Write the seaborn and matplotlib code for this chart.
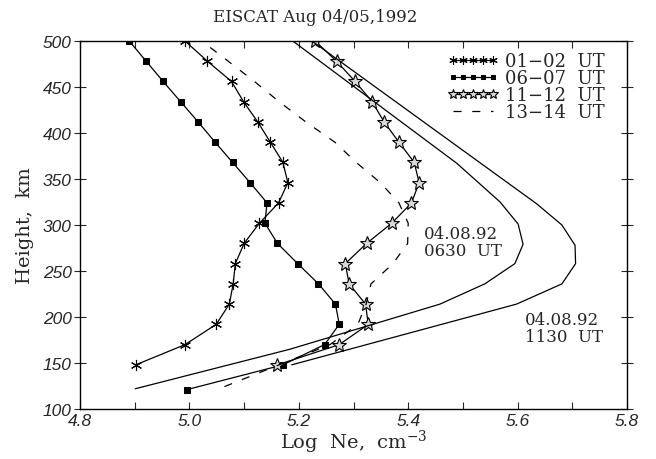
import numpy as np
import matplotlib
matplotlib.use('Agg')
import matplotlib.pyplot as plt
import seaborn as sns
from matplotlib.ticker import MultipleLocator
from matplotlib.font_manager import FontProperties

# EISCAT profiles, Aug 04/05 1992 (height km, log Ne)
h_0102 = [500, 478, 456, 434, 412, 390, 368, 346, 324, 302, 280, 258, 236, 214, 192, 170, 148]
ne_0102 = [4.992, 5.033, 5.077, 5.099, 5.125, 5.148, 5.171, 5.180, 5.163, 5.128,
           5.100, 5.084, 5.080, 5.073, 5.049, 4.992, 4.902]

h_0607 = [500, 478, 456, 434, 412, 390, 368, 346, 324, 302, 280, 258, 236, 214, 192, 170, 148, 121]
ne_0607 = [4.890, 4.921, 4.952, 4.984, 5.016, 5.047, 5.079, 5.111, 5.142, 5.138,
           5.161, 5.198, 5.236, 5.267, 5.274, 5.247, 5.171, 4.995]

h_1112 = [500, 478, 456, 434, 412, 390, 368, 346, 324, 302, 280, 258, 236, 214, 192, 170, 148]
ne_1112 = [5.230, 5.269, 5.303, 5.334, 5.356, 5.383, 5.411, 5.420, 5.406, 5.370,
           5.324, 5.285, 5.292, 5.322, 5.327, 5.274, 5.161]

h_1314 = [493, 478, 456, 434, 412, 390, 368, 346, 324, 302, 280, 258, 236, 214, 192, 170, 148, 121]
ne_1314 = [5.038, 5.071, 5.119, 5.164, 5.213, 5.266, 5.305, 5.349, 5.383, 5.400,
           5.399, 5.372, 5.332, 5.323, 5.308, 5.257, 5.164, 5.050]

# model profiles
h_m0630 = [500, 367, 325, 301, 279, 258, 236, 214, 165, 122]
ne_m0630 = [5.189, 5.489, 5.568, 5.601, 5.610, 5.595, 5.540, 5.458, 5.184, 4.901]

h_m1130 = [500, 323, 300, 278, 258, 236, 214, 148]
ne_m1130 = [5.224, 5.635, 5.681, 5.705, 5.706, 5.681, 5.598, 5.187]

sns.set_style('ticks')
plt.rcParams['font.family'] = ['DejaVu Serif']
plt.rcParams['mathtext.fontset'] = 'dejavuserif'

fig = plt.figure(figsize=(6.56, 4.60), dpi=100)
ax = fig.add_axes([80/656, 50/460, 547/656, 368/460])

lw = 0.9


def profile(x, y, label=None, **style):
    sns.lineplot(x=x, y=y, sort=False, estimator=None, ax=ax, color='black', label=label)
    line = ax.get_lines()[-1]
    line.set_linewidth(lw)
    line.set_linestyle('-')
    for k, v in style.items():
        getattr(line, 'set_' + k)(v)
    return line


lines = [
    profile(ne_0102, h_0102, '01\u221202  UT', marker=(6, 2, 0), markersize=8,
            markeredgewidth=0.8, markeredgecolor='black'),
    profile(ne_0607, h_0607, '06\u221207  UT', marker='s', markersize=4.5,
            markerfacecolor='black', markeredgecolor='black'),
    profile(ne_1112, h_1112, '11\u221212  UT', marker='*', markersize=10,
            markerfacecolor='#d8d8d8', markeredgecolor='black', markeredgewidth=0.8),
    profile(ne_1314, h_1314, '13\u221214  UT', linestyle=(0, (6.5, 8.5))),
]
profile(ne_m0630, h_m0630)
profile(ne_m1130, h_m1130)

ax.set_xlim(4.8, 5.8)
ax.set_ylim(100, 500)
ax.xaxis.set_major_locator(MultipleLocator(0.2))
ax.xaxis.set_minor_locator(MultipleLocator(0.1))
ax.yaxis.set_major_locator(MultipleLocator(50))
ax.tick_params(axis='x', which='both', direction='in', top=True, bottom=True,
               length=5, width=0.8, pad=3)
ax.tick_params(axis='y', which='both', direction='inout', left=True, right=True,
               length=8, width=0.8, pad=2)
for s in ax.spines.values():
    s.set_linewidth(1.0)
    s.set_color('black')

tick_font = FontProperties(family='Liberation Sans', style='italic', size=12.5)
xt = [4.8, 5.0, 5.2, 5.4, 5.6, 5.8]
yt = [100, 150, 200, 250, 300, 350, 400, 450, 500]
ax.set_xticks(xt)
ax.set_xticklabels(['%.1f' % v for v in xt], fontproperties=tick_font)
ax.set_yticks(yt)
ax.set_yticklabels(['%d' % v for v in yt], fontproperties=tick_font)
ax.set_xlim(4.8, 5.8)
ax.set_ylim(100, 500)

fig.text(315 / 656, 1 - 17 / 460, 'EISCAT Aug 04/05,1992', fontsize=12,
         ha='center', va='center')
ax.set_xlabel(r'Log  Ne,  cm$^{\mathregular{-3}}$', fontsize=14, labelpad=0)
ax.set_ylabel('Height,  km', fontsize=14, labelpad=6)

ax.text(5.429, 282, '04.08.92\n0630  UT', fontsize=12, linespacing=1.0, va='center', ha='left')
ax.text(5.613, 188, '04.08.92\n1130  UT', fontsize=12, linespacing=1.0, va='center', ha='left')

ax.legend(handles=lines, loc='upper left', bbox_to_anchor=((448 - 80) / 547, (410 - 53) / 368),
          frameon=False, numpoints=5, markerscale=0.75, handlelength=2.8, handletextpad=0.35,
          labelspacing=-0.05, borderpad=0, borderaxespad=0, fontsize=13)

fig.savefig('out.png', dpi=100)
